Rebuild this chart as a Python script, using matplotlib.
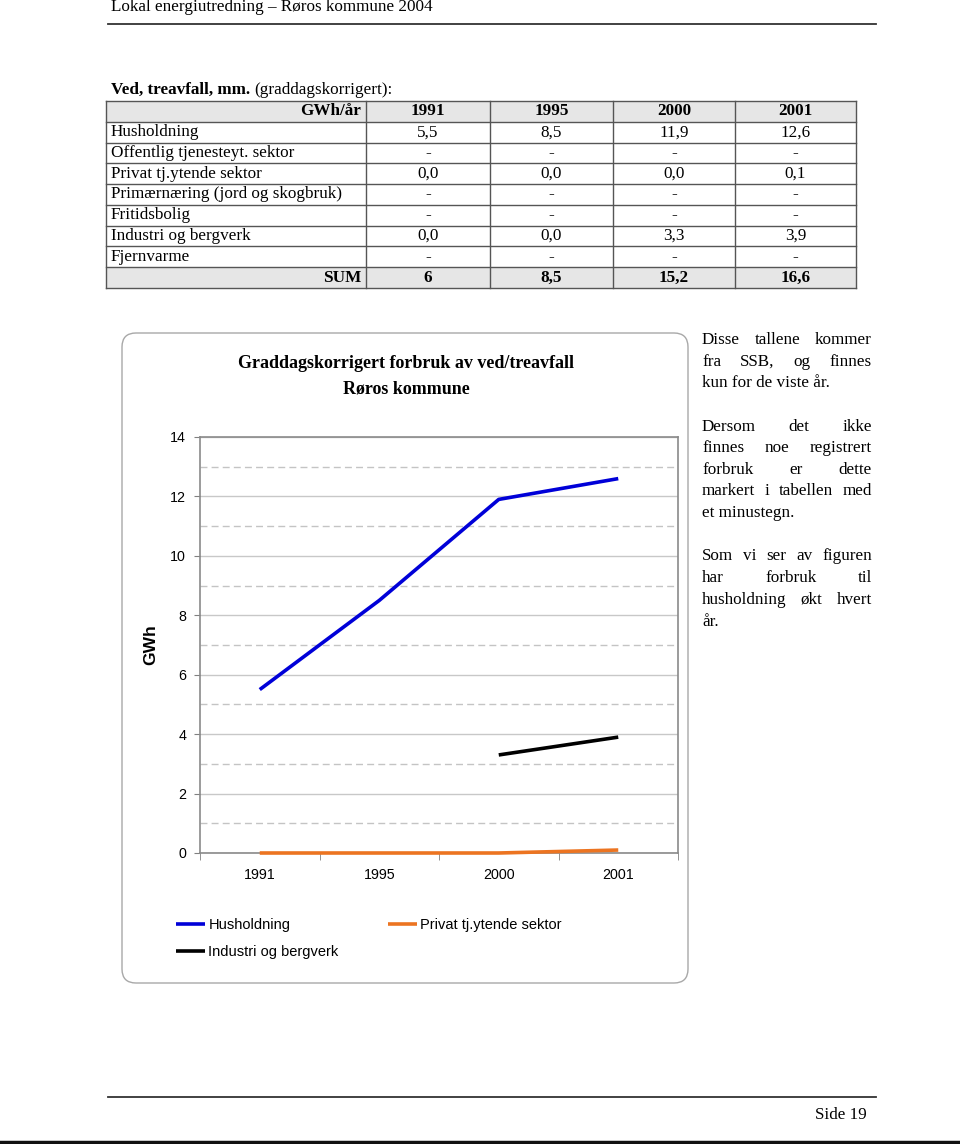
import numpy as np
import matplotlib
matplotlib.use("Agg")
import matplotlib.pyplot as plt
from matplotlib.patches import FancyBboxPatch, Rectangle
from matplotlib.ticker import MultipleLocator, FixedLocator

SERIF = "Liberation Serif"
SANS = "Liberation Sans"

# table data
years = ["1991", "1995", "2000", "2001"]
row_names = ["Husholdning", "Offentlig tjenesteyt. sektor", "Privat tj.ytende sektor",
             "Primærnæring (jord og skogbruk)", "Fritidsbolig", "Industri og bergverk",
             "Fjernvarme"]
row_values = [["5,5", "8,5", "11,9", "12,6"],
              ["-", "-", "-", "-"],
              ["0,0", "0,0", "0,0", "0,1"],
              ["-", "-", "-", "-"],
              ["-", "-", "-", "-"],
              ["0,0", "0,0", "3,3", "3,9"],
              ["-", "-", "-", "-"]]
sum_values = ["6", "8,5", "15,2", "16,6"]

# chart data
husholdning = [5.5, 8.5, 11.9, 12.6]
privat = [0.0, 0.0, 0.0, 0.1]
industri = [np.nan, np.nan, 3.3, 3.9]

side_text = [
    ("Disse tallene kommer", True), ("fra SSB, og finnes", True), ("kun for de viste år.", False),
    ("Dersom det ikke", True), ("finnes noe registrert", True), ("forbruk er dette", True),
    ("markert i tabellen med", True), ("et minustegn.", False),
    ("Som vi ser av figuren", True), ("har forbruk til", True), ("husholdning økt hvert", True),
    ("år.", False),
]
side_y = [339, 361, 382, 426, 447, 469, 490, 512, 555, 577, 599, 621]

W, H = 960, 1144
fig = plt.figure(figsize=(W / 100, H / 100), dpi=100)
page = fig.add_axes([0, 0, 1, 1])
page.set_xlim(0, W)
page.set_ylim(H, 0)
page.axis("off")

# header / footer
page.text(111, 7, "Lokal energiutredning – Røros kommune 2004", family=SERIF, fontsize=12.3,
          va="center", ha="left")
page.plot([108, 876], [24, 24], color="#333333", lw=1.3)
page.plot([108, 876], [1097, 1097], color="#333333", lw=1.3)
page.text(867, 1115, "Side 19", family=SERIF, fontsize=12.3, va="center", ha="right")
page.plot([0, W], [1142, 1142], color="#111111", lw=2.5)

# table title
t1 = page.text(111, 90, "Ved, treavfall, mm.", family=SERIF, fontsize=12.3, weight="bold",
               va="center", ha="left")
fig.canvas.draw()
renderer = fig.canvas.get_renderer()
bw = t1.get_window_extent(renderer).width
page.text(111 + bw + 4, 90, "(graddagskorrigert):", family=SERIF, fontsize=12.3,
          va="center", ha="left")

# table grid
col_x = [106, 366, 490, 613, 735, 856]
top, bot = 101, 288
nrows = len(row_names) + 2
rh = (bot - top) / nrows
row_y = [top + i * rh for i in range(nrows + 1)]
for yy in (row_y[0], row_y[-2]):
    page.add_patch(Rectangle((col_x[0], yy), col_x[-1] - col_x[0], rh, facecolor="#e6e6e6",
                             edgecolor="none"))
for yy in row_y:
    page.plot([col_x[0], col_x[-1]], [yy, yy], color="#555555", lw=1)
for xx in col_x:
    page.plot([xx, xx], [top, bot], color="#555555", lw=1)

def cell_center(j):
    return (col_x[j + 1] + col_x[j + 2]) / 2

ts = dict(family=SERIF, fontsize=12.3, va="center")
page.text(col_x[1] - 5, row_y[0] + rh / 2, "GWh/år", ha="right", weight="bold", **ts)
for j, yr in enumerate(years):
    page.text(cell_center(j), row_y[0] + rh / 2, yr, ha="center", weight="bold", **ts)
for i, name in enumerate(row_names):
    yc = row_y[i + 1] + rh / 2
    page.text(col_x[0] + 5, yc, name, ha="left", **ts)
    for j, v in enumerate(row_values[i]):
        page.text(cell_center(j), yc, v, ha="center", **ts)
yc = row_y[-2] + rh / 2
page.text(col_x[1] - 5, yc, "SUM", ha="right", weight="bold", **ts)
for j, v in enumerate(sum_values):
    page.text(cell_center(j), yc, v, ha="center", weight="bold", **ts)

# chart frame
page.add_patch(FancyBboxPatch((122, 333), 566, 650, boxstyle="round,pad=0,rounding_size=14",
                              facecolor="white", edgecolor="#a8a8a8", lw=1))
page.text(406, 363, "Graddagskorrigert forbruk av ved/treavfall", family=SERIF, fontsize=13,
          weight="bold", ha="center", va="center")
page.text(406, 389, "Røros kommune", family=SERIF, fontsize=13, weight="bold",
          ha="center", va="center")
page.text(151, 645, "GWh", family=SANS, fontsize=12.5, weight="bold", rotation=90,
          ha="center", va="center")

# chart
pl, pr, pt, pb = 200, 678, 437, 853
ax = fig.add_axes([pl / W, 1 - pb / H, (pr - pl) / W, (pb - pt) / H])
x = np.arange(len(years))
ax.plot(x, husholdning, color="#0000d8", lw=2.6, label="Husholdning", solid_capstyle="butt")
ax.plot(x, industri, color="black", lw=2.6, label="Industri og bergverk", solid_capstyle="butt")
ax.plot(x, privat, color="#ec7421", lw=2.6, label="Privat tj.ytende sektor",
        solid_capstyle="butt", clip_on=False, zorder=5)
ax.set_xlim(-0.5, len(years) - 0.5)
ax.set_ylim(0, 14)
ax.set_xticks(x)
ax.set_xticklabels(years)
ax.xaxis.set_minor_locator(FixedLocator(np.arange(-0.5, len(years), 1.0)))
ax.yaxis.set_major_locator(MultipleLocator(2))
ax.yaxis.set_minor_locator(MultipleLocator(1))
ax.tick_params(axis="x", which="major", length=0, pad=11, labelsize=10.3)
ax.tick_params(axis="x", which="minor", length=5, color="#808080", direction="out")
ax.tick_params(axis="y", which="major", length=4, color="#808080", pad=6, labelsize=10.3)
ax.tick_params(axis="y", which="minor", length=0)
for lab in ax.get_xticklabels() + ax.get_yticklabels():
    lab.set_family(SANS)
ax.grid(axis="y", which="major", color="#c8c8c8", lw=1, ls="-")
ax.grid(axis="y", which="minor", color="#c4c4c4", lw=1, ls=(0, (5, 3)))
ax.set_axisbelow(True)
for s in ax.spines.values():
    s.set_color("#8a8a8a")
    s.set_linewidth(1.2)

ax.legend(loc="upper left", bbox_to_anchor=(169 / W, 1 - 911 / H), bbox_transform=fig.transFigure,
          ncol=2, frameon=False, borderpad=0, handlelength=1.95, handletextpad=0.25,
          columnspacing=3.4, labelspacing=0.85, prop={"family": SANS, "size": 10.5})

# justified side text
left, right = 702, 872
bs = dict(family=SERIF, fontsize=12.3, va="baseline")
for (line, just), yy in zip(side_text, side_y):
    yb = yy + 5
    words = line.split()
    if not just or len(words) == 1:
        page.text(left, yb, line, ha="left", **bs)
        continue
    objs = [page.text(0, yb, w, ha="left", **bs) for w in words]
    widths = [o.get_window_extent(renderer).width for o in objs]
    gap = (right - left - sum(widths)) / (len(words) - 1)
    xx = left
    for o, w in zip(objs, widths):
        o.set_x(xx)
        xx += w + gap

fig.savefig("out.png", dpi=100)
